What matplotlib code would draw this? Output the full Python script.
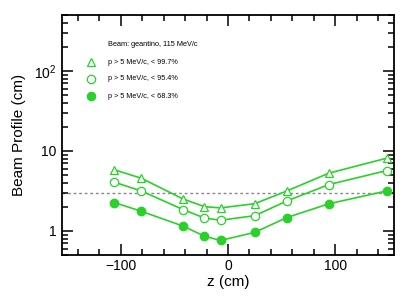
import matplotlib
matplotlib.use('Agg')
import matplotlib.pyplot as plt
from matplotlib.ticker import FixedLocator, MultipleLocator, LogLocator, NullFormatter, FuncFormatter

plt.rcParams['font.family'] = ['Liberation Sans', 'DejaVu Sans']
plt.rcParams['mathtext.fontset'] = 'custom'
plt.rcParams['mathtext.rm'] = 'Liberation Sans'

z = [-106, -81, -42, -22, -7, 25, 55, 94, 148]
r997 = [5.8, 4.56, 2.51, 2.01, 1.94, 2.19, 3.16, 5.26, 8.1]
r954 = [4.06, 3.16, 1.85, 1.45, 1.36, 1.55, 2.37, 3.79, 5.67]
r683 = [2.26, 1.76, 1.15, 0.86, 0.76, 0.96, 1.47, 2.18, 3.16]
ref_level = 3.0

labels = ['p > 5 MeV/c, < 99.7%', 'p > 5 MeV/c, < 95.4%', 'p > 5 MeV/c, < 68.3%']
green = '#2ad12a'

fig = plt.figure(figsize=(4.15, 3.0), dpi=100)
ax = fig.add_axes([62 / 415, 45 / 300, 332 / 415, 240 / 300])

ax.axhline(ref_level, color='#888888', ls=(0, (2, 2)), lw=1.0, zorder=1)

ax.plot(z, r997, '-', color=green, lw=1.2, marker='^', ms=6, mfc='white', mec=green, mew=0.9)
ax.plot(z, r954, '-', color=green, lw=1.2, marker='o', ms=6, mfc='white', mec=green, mew=0.9)
ax.plot(z, r683, '-', color=green, lw=1.2, marker='o', ms=6, mfc=green, mec=green)

ax.set_yscale('log')
ax.set_xlim(-155, 155)
ax.set_ylim(0.5, 500)

ax.xaxis.set_major_locator(FixedLocator([-100, 0, 100]))
ax.xaxis.set_minor_locator(MultipleLocator(20))
ax.yaxis.set_major_locator(FixedLocator([1, 10, 100]))
ax.yaxis.set_minor_locator(LogLocator(base=10, subs=range(2, 10)))
ax.yaxis.set_minor_formatter(NullFormatter())
ax.yaxis.set_major_formatter(FuncFormatter(lambda v, p: {1: '1', 10: '10', 100: r'$10^{2}$'}.get(round(v), '')))
ax.xaxis.set_major_formatter(FuncFormatter(lambda v, p: '\u2212100' if v < 0 else '%d' % v))

ax.tick_params(which='both', direction='in', top=True, right=True, labelsize=10, width=1.1)
ax.tick_params(which='major', length=8)
ax.tick_params(which='minor', length=4)
ax.tick_params(axis='x', pad=3)
ax.tick_params(axis='y', pad=4)
for s in ax.spines.values():
    s.set_linewidth(1.3)

ax.set_xlabel('z (cm)', fontsize=11, labelpad=1)
ax.set_ylabel('Beam Profile (cm)', fontsize=11, labelpad=6)

# legend drawn by hand in axes fraction
ax.text((108 - 62) / 332, 1 - (44 - 15) / 240, 'Beam: geantino, 115 MeV/c',
        transform=ax.transAxes, fontsize=5.3, va='center')
ys = [62, 79, 96]
styles = [('^', 'white'), ('o', 'white'), ('o', green)]
for yy, lab, (m, fc) in zip(ys, labels, styles):
    yf = 1 - (yy - 15) / 240
    ax.plot([(91 - 62) / 332], [yf], marker=m, ms=6, mfc=fc, mec=green, mew=0.9,
            transform=ax.transAxes, clip_on=False)
    ax.text((108 - 62) / 332, yf, lab, transform=ax.transAxes, fontsize=5.2, va='center')

fig.savefig('out.png', dpi=100)
